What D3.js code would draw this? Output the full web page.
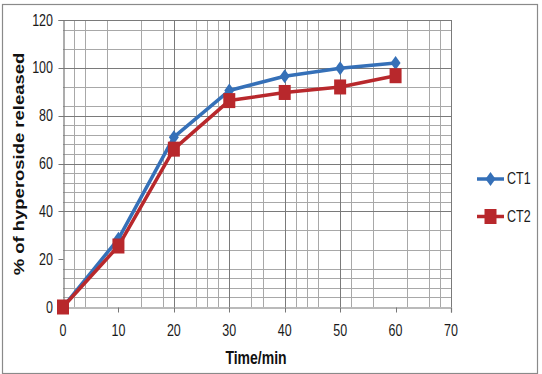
<!DOCTYPE html>
<html><head><meta charset="utf-8">
<script src="https://cdn.jsdelivr.net/npm/d3@7"></script>
<style>body{margin:0;background:#fff}svg{display:block}</style>
</head><body>
<svg id="c" width="542" height="374"></svg>
<script>
// ---- data ----
const times = [0, 10, 20, 30, 40, 50, 60];
const ct1 = [0, 28.5, 71, 90.5, 96.5, 99.8, 102];
const ct2 = [0, 25.5, 66, 86.3, 89.7, 92, 96.7];
const seriesNames = ["CT1", "CT2"];
const xTicks = [0, 10, 20, 30, 40, 50, 60, 70];
const yTicks = [0, 20, 40, 60, 80, 100, 120];
const xMajorGrid = [20, 30, 40, 50, 70];
const xMinorGrid = [2, 4, 8, 14, 18, 24, 26, 28, 34, 36, 42, 44, 46, 52, 56, 62, 66, 68];
const yMajorGrid = [40, 60, 80, 100, 120];
const yMinorGrid = [4, 8, 12, 16, 24, 32, 44, 48, 52, 56, 64, 68, 72, 76, 84, 92, 108, 116];
const xTitle = "Time/min";
const yTitle = "% of hyperoside released";

// ---- layout ----
const svg = d3.select("#c");
const colors = {CT1: "#3570b8", CT2: "#b8282c"};
const x = d3.scaleLinear().domain([0, 70]).range([63, 451]);
const y = d3.scaleLinear().domain([0, 120]).range([307, 20]);
const SY = 1.3; // vertical stretch of text in the reference

svg.append("rect").attr("x", 0).attr("y", 0).attr("width", 542).attr("height", 374).attr("fill", "#fff");
svg.append("rect").attr("x", 2.5).attr("y", 4.5).attr("width", 535).attr("height", 369)
  .attr("fill", "none").attr("stroke", "#8a8a8a").attr("stroke-width", 1.2);

const g = svg.append("g");
// minor grid
g.selectAll(".vx").data(xMinorGrid).join("line")
  .attr("x1", d => Math.round(x(d)) + 0.5).attr("x2", d => Math.round(x(d)) + 0.5)
  .attr("y1", y(0)).attr("y2", y(120)).attr("stroke", "#a8a8a8").attr("stroke-width", 1);
g.selectAll(".hy").data(yMinorGrid).join("line")
  .attr("y1", d => Math.round(y(d)) + 0.5).attr("y2", d => Math.round(y(d)) + 0.5)
  .attr("x1", x(0)).attr("x2", x(70)).attr("stroke", "#a8a8a8").attr("stroke-width", 1);
// major grid
g.selectAll(".mx").data(xMajorGrid).join("line")
  .attr("x1", d => Math.round(x(d)) + 0.5).attr("x2", d => Math.round(x(d)) + 0.5)
  .attr("y1", y(0)).attr("y2", y(120)).attr("stroke", "#7a7a7a").attr("stroke-width", 1);
g.selectAll(".my").data(yMajorGrid).join("line")
  .attr("y1", d => Math.round(y(d)) + 0.5).attr("y2", d => Math.round(y(d)) + 0.5)
  .attr("x1", x(0)).attr("x2", x(70)).attr("stroke", "#7a7a7a").attr("stroke-width", 1);

// axes
const xAxis = d3.axisBottom(x).tickValues(xTicks).tickSize(5).tickFormat("");
const yAxis = d3.axisLeft(y).tickValues(yTicks).tickSize(5).tickFormat("");
const gx = svg.append("g").attr("transform", `translate(0,${Math.round(y(0)) + 0.5})`).call(xAxis);
const gy = svg.append("g").attr("transform", `translate(${Math.round(x(0)) + 0.5},0)`).call(yAxis);
[gx, gy].forEach(a => {
  a.select(".domain").attr("stroke", "#777").attr("stroke-width", 1.2);
  a.selectAll(".tick line").attr("stroke", "#777");
});
gx.selectAll(".tick").attr("transform", d => `translate(${Math.round(x(d)) + 0.5},0)`);
gy.selectAll(".tick").attr("transform", d => `translate(0,${Math.round(y(d)) + 0.5})`);

const font = "'Liberation Sans', Arial, sans-serif";
// tick labels
svg.append("g").selectAll("text").data(xTicks).join("text")
  .attr("transform", d => `translate(${x(d)},335.5) scale(1,${SY})`)
  .attr("text-anchor", "middle").attr("font-family", font).attr("font-size", 12.5)
  .attr("fill", "#1a1a1a").text(d => d);
svg.append("g").selectAll("text").data(yTicks).join("text")
  .attr("transform", d => `translate(53,${y(d) + 5.6}) scale(1,${SY})`)
  .attr("text-anchor", "end").attr("font-family", font).attr("font-size", 12.5)
  .attr("fill", "#1a1a1a").text(d => d);

// titles
svg.append("text").attr("transform", `translate(256,364) scale(1,${SY})`)
  .attr("text-anchor", "middle").attr("font-family", font).attr("font-size", 14)
  .attr("font-weight", "bold").attr("fill", "#111").text(xTitle);
svg.append("text").attr("transform", `translate(24,164) rotate(-90) scale(${SY},1)`)
  .attr("text-anchor", "middle").attr("font-family", font).attr("font-size", 14.2)
  .attr("font-weight", "bold").attr("fill", "#111").text(yTitle);

// series
const series = [
  {name: "CT1", values: ct1, shape: "diamond"},
  {name: "CT2", values: ct2, shape: "square"}
];
const line = d3.line().x(d => x(d[0])).y(d => y(d[1]));
function marker(sel, shape, color) {
  if (shape === "diamond") {
    sel.append("path").attr("d", "M0,-7 L5,0 L0,7 L-5,0 Z").attr("fill", color);
  } else {
    sel.append("rect").attr("x", -6).attr("y", -7.5).attr("width", 12).attr("height", 15).attr("fill", color);
  }
}
series.forEach(s => {
  const pts = times.map((t, i) => [t, s.values[i]]);
  svg.append("path").datum(pts).attr("d", line).attr("fill", "none")
    .attr("stroke", colors[s.name]).attr("stroke-width", 3.5).attr("stroke-linejoin", "round");
  const mg = svg.append("g").selectAll("g").data(pts).join("g")
    .attr("transform", d => `translate(${x(d[0])},${y(d[1])})`);
  mg.each(function () { marker(d3.select(this), s.shape, colors[s.name]); });
});

// legend
const legY = [179, 216.5];
series.forEach((s, i) => {
  const lg = svg.append("g").attr("transform", `translate(0,${legY[i]})`);
  lg.append("line").attr("x1", 477).attr("x2", 504).attr("y1", 0).attr("y2", 0)
    .attr("stroke", colors[s.name]).attr("stroke-width", 3.5);
  const m = lg.append("g").attr("transform", "translate(490.5,0)");
  marker(m, s.shape, colors[s.name]);
  lg.append("text").attr("transform", `translate(507,5.3) scale(1,${SY})`)
    .attr("font-family", font).attr("font-size", 12.5).attr("fill", "#1a1a1a").text(s.name);
});
</script>
</body></html>
